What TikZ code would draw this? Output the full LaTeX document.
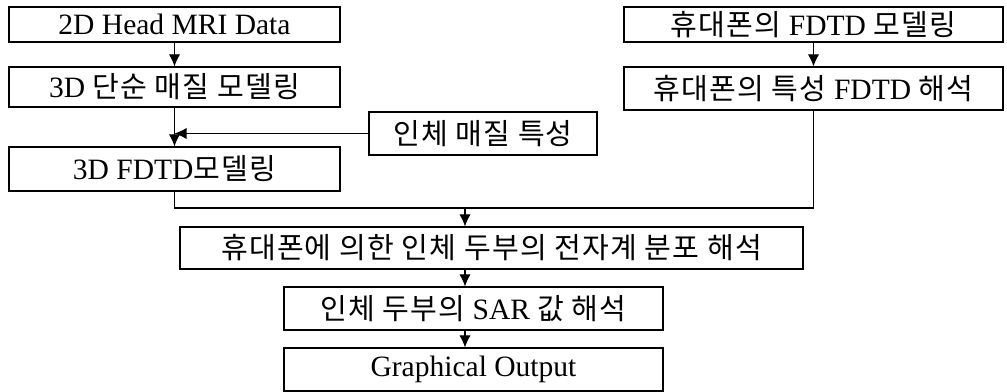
\documentclass[tikz,border=0pt]{standalone}
\usepackage{fontspec}
\setmainfont{Liberation Serif}
\newfontfamily\krfont[Scale=0.985,LetterSpace=4]{Noto Sans CJK KR}
\usepackage{tikz}
\usetikzlibrary{positioning}
\usetikzlibrary{shapes.misc, arrows, arrows.meta, positioning}

\newcommand{\px}{0.025cm}

\tikzset{
    caja/.style={draw, line width=0.8pt, inner sep=0pt, font=\fontsize{21}{24}\selectfont},
}

\begin{document}
\begin{tikzpicture}[x=\px, y=-\px, >={Latex[length=3mm,width=2.8mm]}, line width=0.8pt]
    \useasboundingbox (0,0) rectangle (1007,392);

    % Cabeza: columna izquierda
    \node[caja, minimum width=331*\px, minimum height=35*\px] (mri) at (174.5,24.5) {2D Head MRI Data};
    \node[caja, minimum width=331*\px, minimum height=40*\px] (simple) at (174.5,87) {3D {\krfont 단순 매질 모델링}};
    \node[caja, minimum width=331*\px, minimum height=44*\px] (fdtd) at (174.5,169) {3D FDTD{\krfont 모델링}};

    % Propiedades del tejido
    \node[caja, minimum width=228*\px, minimum height=43*\px] (tejido) at (483,133.5) {\krfont 인체 매질 특성};

    % Telefono: columna derecha
    \node[caja, minimum width=379*\px, minimum height=35*\px] (movil) at (813.5,24.5) {{\krfont 휴대폰의} FDTD {\krfont 모델링}};
    \node[caja, minimum width=379*\px, minimum height=43*\px] (antena) at (813.5,88.5) {{\krfont 휴대폰의 특성} FDTD {\krfont 해석}};

    % Analisis conjunto
    \node[caja, minimum width=623*\px, minimum height=42*\px] (campo) at (491.5,248) {\krfont 휴대폰에 의한 인체 두부의 전자계 분포 해석};
    \node[caja, minimum width=379*\px, minimum height=43*\px] (sar) at (473.5,308.5) {{\krfont 인체 두부의} SAR {\krfont 값 해석}};
    \node[caja, minimum width=379*\px, minimum height=43*\px] (salida) at (473.5,369.5) {Graphical Output};

    % Flechas
    \draw[->] (mri.south) -- (simple.north);
    \draw[->] (simple.south) -- (fdtd.north);
    \draw[->] (tejido.west) -- (tejido.west -| fdtd.north);
    \draw[->] (movil.south) -- (antena.north);

    % Union de las dos ramas
    \coordinate (union) at (465,208);
    \draw (fdtd.south) -- (fdtd.south |- union) -- (antena.south |- union) -- (antena.south);
    \draw[->] (union) -- (union |- campo.north);
    \draw[->] (campo.south -| union) -- (sar.north -| union);
    \draw[->] (sar.south -| union) -- (salida.north -| union);
\end{tikzpicture}
\end{document}
